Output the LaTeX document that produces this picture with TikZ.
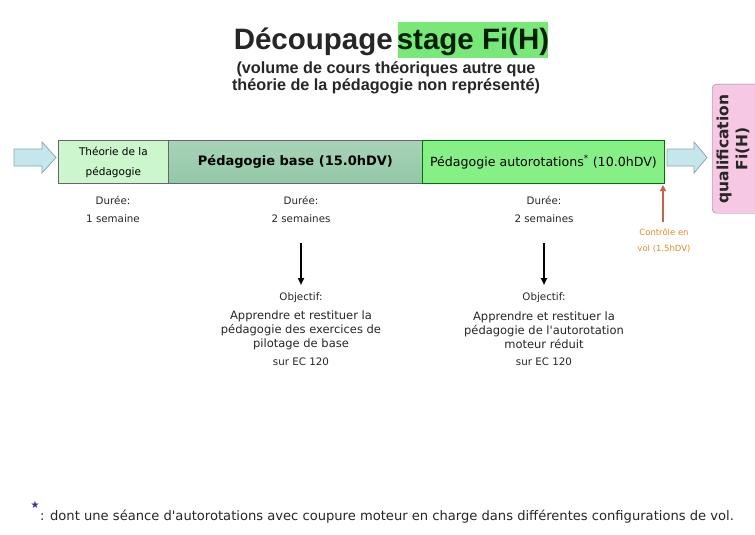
\documentclass[tikz,border=0pt]{standalone}
\usepackage{fontspec}
\setmainfont{Liberation Sans}
\newfontfamily\dvs{DejaVu Sans}
\usetikzlibrary{arrows.meta}
\definecolor{arrowfill}{RGB}{197,230,234}
\definecolor{arrowline}{RGB}{140,170,175}
\definecolor{boxA}{RGB}{204,246,204}
\definecolor{boxB}{RGB}{146,200,166}
\definecolor{boxC}{RGB}{134,240,134}
\definecolor{titlegreen}{RGB}{120,232,120}
\definecolor{qualpink}{RGB}{247,200,228}
\definecolor{ctrlred}{RGB}{200,100,70}
\definecolor{ctrltext}{RGB}{225,140,40}
\definecolor{starblue}{RGB}{50,50,160}
\tikzset{
  small/.style={font=\dvs\fontsize{10.3}{18}\selectfont, text=black!85, inner sep=0pt, align=center},
  objbody/.style={font=\dvs\fontsize{11.5}{14}\selectfont, text=black!85, inner sep=0pt, align=center},
  phase/.style={draw=black!60, line width=0.8pt, minimum height=43pt, inner sep=0pt, align=center},
  blockarrow/.style={fill=arrowfill, draw=arrowline, line width=0.8pt},
  downarrow/.style={line width=1.8pt, -{Triangle[length=7pt,width=6pt]}},
}
\begin{document}
\begin{tikzpicture}[x=1pt,y=-1pt]
\useasboundingbox[fill=white] (0,0) rectangle (755,535);
\clip (0,0) rectangle (755,535);
% title
\node[font=\bfseries\fontsize{29.5}{32}\selectfont, text=black!85, anchor=base east, inner sep=0pt] (title) at (393,50) {Découpage};
\node[fill=titlegreen, minimum width=150pt, minimum height=36pt, inner sep=0pt, anchor=north west] (stagebox) at (398,22) {};
\node[font=\bfseries\fontsize{29.5}{32}\selectfont, text=black!80!green!60!black, anchor=base, inner sep=0pt] (stage) at (473,50) {stage Fi(H)};
\node[font=\bfseries\fontsize{16.2}{17}\selectfont, text=black!85, inner sep=0pt, align=center, anchor=north] (sub) at (386,61) {(volume de cours théoriques autre que\\théorie de la pédagogie non représenté)};
% arrows
\draw[blockarrow] (14,149) -- (42,149) -- (42,142) -- (56,157.5) -- (42,173) -- (42,166) -- (14,166) -- cycle;
\draw[blockarrow] (667,149) -- (694,149) -- (694,142) -- (707,157.5) -- (694,173) -- (694,166) -- (667,166) -- cycle;
% phases
\node[phase, fill=boxA, minimum width=110pt, anchor=north west, font=\dvs\fontsize{10.5}{20}\selectfont] (p1) at (58,140) {Théorie de la\\pédagogie};
\node[phase, top color=boxB!80!white, bottom color=boxB, minimum width=254pt, anchor=north west, font=\dvs\bfseries\fontsize{13}{15}\selectfont] (p2) at (168,140) {Pédagogie base (15.0hDV)};
\node[phase, fill=boxC, draw=green!45!black, minimum width=242pt, anchor=north west, font=\dvs\fontsize{12.6}{14}\selectfont] (p3) at (422,140) {Pédagogie autorotations\textsuperscript{*} (10.0hDV)};
% qualification
\node[draw=black!45, fill=qualpink, rounded corners=4pt, minimum width=60pt, minimum height=129pt, anchor=north west, inner sep=0pt] (qual) at (712,84) {};
\node[rotate=90, font=\dvs\bfseries\fontsize{15.5}{19}\selectfont, text=black!85, align=center, inner sep=0pt] (qualtext) at (733,149) {qualification\\Fi(H)};
% durations
\node[small] (d1) at (113,209) {Durée:\\1 semaine};
\node[small] (d2) at (301,209) {Durée:\\2 semaines};
\node[small] (d3) at (544,209) {Durée:\\2 semaines};
% control
\coordinate (ctrlstart) at (663,222);
\coordinate (ctrlend) at (663,185);
\draw[ctrlred, line width=1.6pt, -{Triangle[length=6pt,width=6pt]}] (ctrlstart) -- (ctrlend);
\node[small, text=ctrltext, font=\dvs\fontsize{8.5}{16}\selectfont, anchor=north] (ctrl) at (664,228) {Contrôle en\\vol (1.5hDV)};
% objectives
\node[small] (o1t) at (301,298) {Objectif:};
\node[objbody] (o1b) at (301,330) {Apprendre et restituer la\\pédagogie des exercices de\\pilotage de base};
\node[small] (o1e) at (301,362) {sur EC 120};
\node[small] (o2t) at (544,298) {Objectif:};
\node[objbody] (o2b) at (544,330) {Apprendre et restituer la\\pédagogie de l'autorotation\\moteur réduit};
\node[small] (o2e) at (544,362) {sur EC 120};
\draw[downarrow] (d2.south |- 0,243) -- (o1t.north |- 0,285);
\draw[downarrow] (d3.south |- 0,243) -- (o2t.north |- 0,285);
% footnote
\node[font=\dvs\fontsize{10}{12}\selectfont, text=starblue, inner sep=0pt] (star) at (35,505) {★};
\node[font=\dvs\fontsize{13.1}{14}\selectfont, text=black!85, anchor=base west, inner sep=0pt] (foot) at (40,520) {: dont une séance d'autorotations avec coupure moteur en charge dans différentes configurations de vol.};
\end{tikzpicture}
\end{document}
